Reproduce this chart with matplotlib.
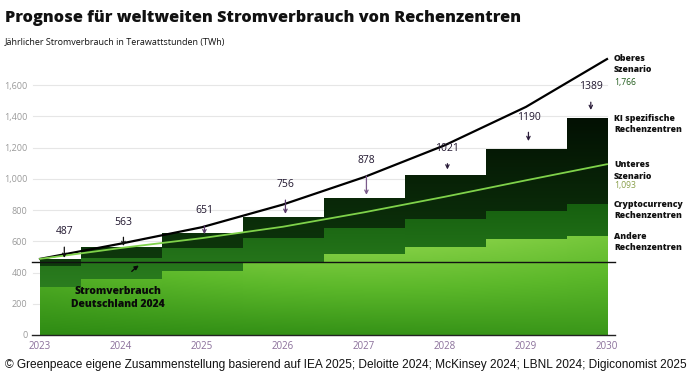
import numpy as np
import matplotlib
matplotlib.use("Agg")
import matplotlib.pyplot as plt
from matplotlib.colors import LinearSegmentedColormap

# --- data (TWh) ---
years = [2023, 2024, 2025, 2026, 2027, 2028, 2029, 2030]
total = [487, 563, 651, 756, 878, 1021, 1190, 1389]
ki_bottom = [442, 490, 557, 620, 685, 742, 794, 838]        # top of crypto layer
andere = [307, 358, 410, 467, 518, 563, 614, 634]          # top of "Andere" layer
oberes = [487, 585, 690, 835, 1010, 1215, 1460, 1766]
unteres = [487, 557, 620, 693, 785, 885, 990, 1093]
germany_2024 = 465
y_ticks = [0, 200, 400, 600, 800, 1000, 1200, 1400, 1600]

plt.rcParams['font.family'] = ['Open Sans', 'DejaVu Sans']

fig = plt.figure(figsize=(6.9, 3.75), dpi=100)
ax = fig.add_axes([40 / 690, 40 / 375, 567 / 690, 0.75])
ax.set_xlim(2023, 2030)
ax.set_ylim(0, 1800)

# bar edges: each year centred, clipped to the axis range
lefts = [max(y - 0.5, years[0]) for y in years]
rights = [min(y + 0.5, years[-1]) for y in years]
widths = [r - l for l, r in zip(lefts, rights)]

cm_andere = LinearSegmentedColormap.from_list('a', ['#2f8c14', '#5cb82a', '#8fd64c'])
cm_crypto = LinearSegmentedColormap.from_list('c', ['#2b7d1f', '#16600f'])
cm_ki = LinearSegmentedColormap.from_list('k', ['#0e3a0c', '#031003'])

gx, gy = np.meshgrid(np.linspace(0, 1, 60), np.linspace(0, 1, 60))
grad_andere = 0.75 * gy + 0.35 * np.sin(np.pi * gx) * gy + 0.15 * gx
grad_v = gy


def layer(bottoms, tops, cmap, grad, y0, y1):
    bars = ax.bar(lefts, [t - b for b, t in zip(bottoms, tops)], width=widths,
                  bottom=bottoms, align='edge', color=cmap(0.5), lw=0, zorder=2)
    for p in bars.patches:
        im = ax.imshow(grad, extent=[2023, 2030, y0, y1], origin='lower',
                       cmap=cmap, aspect='auto', zorder=2.1, interpolation='bilinear')
        im.set_clip_path(p)


layer([0] * 8, andere, cm_andere, grad_andere, 0, 650)
layer(andere, ki_bottom, cm_crypto, grad_v, 300, 850)
layer(ki_bottom, total, cm_ki, grad_v, 440, 1400)

ax.set_xlim(2023, 2030)
ax.set_ylim(0, 1800)

# grid
for t in y_ticks[1:]:
    ax.axhline(t, xmin=-0.013, xmax=1.0, color='#e6e6e6', lw=0.8, zorder=0, clip_on=False)
ax.axhline(0, xmin=-0.014, xmax=1.014, color='#222222', lw=1.0, zorder=3, clip_on=False)
ax.axhline(germany_2024, xmin=-0.014, xmax=1.014, color='#111111', lw=1.0, zorder=3, clip_on=False)

# scenario lines
ax.plot(years, oberes, color='#000000', lw=1.6, zorder=4, clip_on=False)
ax.plot(years, unteres, color='#7fd24a', lw=1.3, zorder=4, clip_on=False)

for s in ax.spines.values():
    s.set_visible(False)
ax.set_yticks(y_ticks)
ax.set_yticklabels([f'{t:,}' for t in y_ticks])
ax.tick_params(axis='y', length=0, pad=9, labelsize=6.5, labelcolor='#9a9a9a')
ax.set_xticks(years)
ax.set_xticklabels([str(y) for y in years])
ax.tick_params(axis='x', length=0, pad=4, labelsize=7, labelcolor='#8a6f9a')

# value labels with arrows
label_off = [26, 24, 24, 29, 34, 21, 24, 23]      # px above bar top
tip_off = [1, 1, -1, 3, 3, 6, 8, 8]                 # arrow tip px above bar top
arrow_cols = ['#111111', '#111111', '#5a3a6a', '#5a3a6a', '#7a5a8a', '#2b1d3a', '#2b1d3a', '#2b1d3a']
for i, v in enumerate(total):
    xc = (lefts[i] + rights[i]) / 2 + (0.05 if i in (0, 7) else 0.03)
    ax.annotate(str(v), xy=(xc, v + tip_off[i] / 0.15625), xytext=(0, label_off[i] * 0.72),
                textcoords='offset points', ha='center', va='center', fontsize=7.5,
                color='#221830', zorder=6,
                arrowprops=dict(arrowstyle='->', color=arrow_cols[i], lw=0.9,
                                shrinkA=5, shrinkB=0, mutation_scale=6))

# Germany annotation
ax.annotate('Stromverbrauch\nDeutschland 2024', xy=(2024.22, germany_2024 - 20),
            xytext=(2023.96, 235), textcoords='data', ha='center', va='center',
            fontsize=7.5, fontweight='heavy', color='#0a0a0a', linespacing=1.2, zorder=6,
            arrowprops=dict(arrowstyle='-|>', color='#0a0a0a', lw=1.0, mutation_scale=6,
                            shrinkA=11, shrinkB=0, connectionstyle='arc3,rad=-0.2'))

# right-hand labels
rk = dict(xycoords='data', textcoords='offset points', ha='left', va='center',
          fontsize=6.2, fontweight='heavy', color='#111111', linespacing=1.3)
ax.annotate('Oberes\nSzenario', xy=(2030, 1734), xytext=(5, 0), **rk)
ax.annotate(f'{oberes[-1]:,}', xy=(2030, 1619), xytext=(5, 0), textcoords='offset points',
            ha='left', va='center', fontsize=6.2, color='#1f5a1a')
ax.annotate('KI spezifische\nRechenzentren', xy=(2030, 1350), xytext=(5, 0), **rk)
ax.annotate('Unteres\nSzenario', xy=(2030, 1053), xytext=(5, 0), **rk)
ax.annotate(f'{unteres[-1]:,}', xy=(2030, 954), xytext=(5, 0), textcoords='offset points',
            ha='left', va='center', fontsize=6.2, color='#8aa04a')
ax.annotate('Cryptocurrency\nRechenzentren', xy=(2030, 800), xytext=(5, 0), **rk)
ax.annotate('Andere\nRechenzentren', xy=(2030, 595), xytext=(5, 0), **rk)

# titles and source
fig.text(5 / 690, 1 - 18 / 375, 'Prognose für weltweiten Stromverbrauch von Rechenzentren',
         ha='left', va='center', fontsize=11.7, fontweight='heavy', color='#111111')
fig.text(5 / 690, 1 - 42 / 375, 'Jährlicher Stromverbrauch in Terawattstunden (TWh)',
         ha='left', va='center', fontsize=6.5, color='#111111')
fig.text(5 / 690, 1 - 365 / 375,
         '© Greenpeace eigene Zusammenstellung basierend auf IEA 2025; Deloitte 2024; '
         'McKinsey 2024; LBNL 2024; Digiconomist 2025',
         ha='left', va='center', fontsize=8.55, color='#111111', family='Liberation Sans')

fig.savefig('out.png', dpi=100)
